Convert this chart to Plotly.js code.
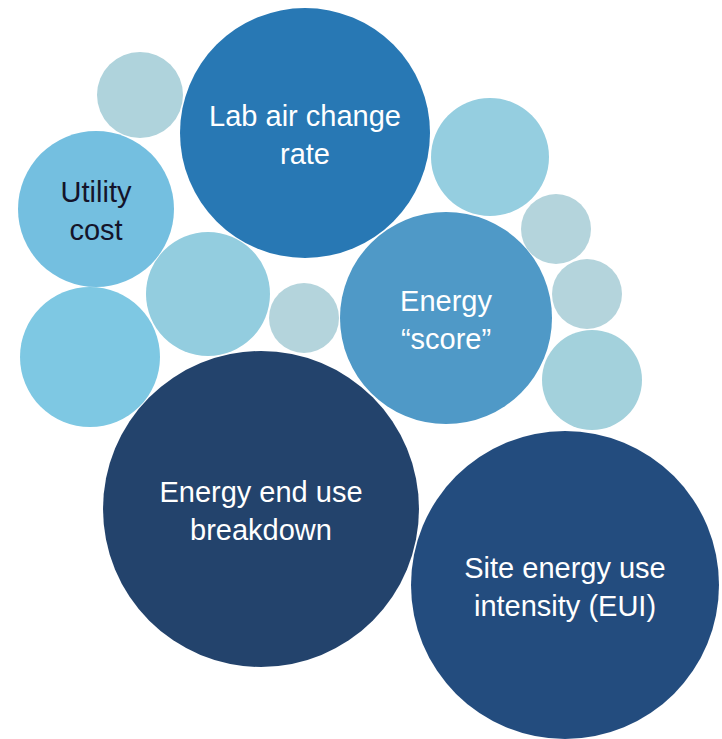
<!DOCTYPE html>
<html>
<head>
<meta charset="utf-8">
<script src="https://cdn.plot.ly/plotly-3.0.1.min.js"></script>
<style>html,body{margin:0;padding:0;background:#fff;}#chart{width:722px;height:739px;}</style>
</head>
<body>
<div id="chart"></div>
<script>
// Bubble data (centre x, centre y, radius in chart units)
const bubbleX = [140, 305, 490, 96, 556, 208, 304, 587, 446, 90, 592, 261, 565];
const bubbleY = [95, 133, 157, 209, 229, 294, 318, 294, 318, 357, 380, 509, 585];
const bubbleR = [43, 125, 59, 78, 35, 62, 35, 35, 106, 70, 50, 158, 154];
const bubbleColors = ["#afd3dc", "#2878b4", "#95cee0", "#74bfe0", "#b4d4dc", "#93cddf", "#b4d4dc", "#b4d4dc", "#4f99c7", "#7ec8e3", "#a3d1dc", "#23436c", "#234c7e"];
const bubbleLabels = ["", "Lab air change<br>rate", "", "Utility<br>cost", "", "", "", "", "Energy<br>\u201cscore\u201d", "", "", "Energy end use<br>breakdown", "Site energy use<br>intensity (EUI)"];
const labelColors = ["#fff", "#ffffff", "#fff", "#14142a", "#fff", "#fff", "#fff", "#fff", "#ffffff", "#fff", "#fff", "#ffffff", "#ffffff"];

const shapes = bubbleX.map((x, i) => ({
  type: "circle", xref: "x", yref: "y",
  x0: x - bubbleR[i], x1: x + bubbleR[i],
  y0: bubbleY[i] - bubbleR[i], y1: bubbleY[i] + bubbleR[i],
  fillcolor: bubbleColors[i], line: {width: 0}, layer: "below"
}));

const idx = bubbleLabels.map((l, i) => i).filter(i => bubbleLabels[i] !== "");
const textTrace = {
  type: "scatter", mode: "text",
  x: idx.map(i => bubbleX[i]),
  y: idx.map(i => bubbleY[i] + 5),
  text: idx.map(i => bubbleLabels[i]),
  textposition: "middle center",
  textfont: {family: "'Liberation Sans Narrow', 'Liberation Sans', Arial, sans-serif", size: 29, color: idx.map(i => labelColors[i])},
  hoverinfo: "skip", showlegend: false
};

const layout = {
  width: 722, height: 739,
  margin: {l: 0, r: 0, t: 0, b: 0},
  paper_bgcolor: "#ffffff", plot_bgcolor: "#ffffff",
  xaxis: {range: [0, 722], visible: false, fixedrange: true},
  yaxis: {range: [739, 0], visible: false, fixedrange: true},
  shapes: shapes, showlegend: false
};

Plotly.newPlot("chart", [textTrace], layout, {displayModeBar: false, staticPlot: true});
</script>
</body>
</html>
